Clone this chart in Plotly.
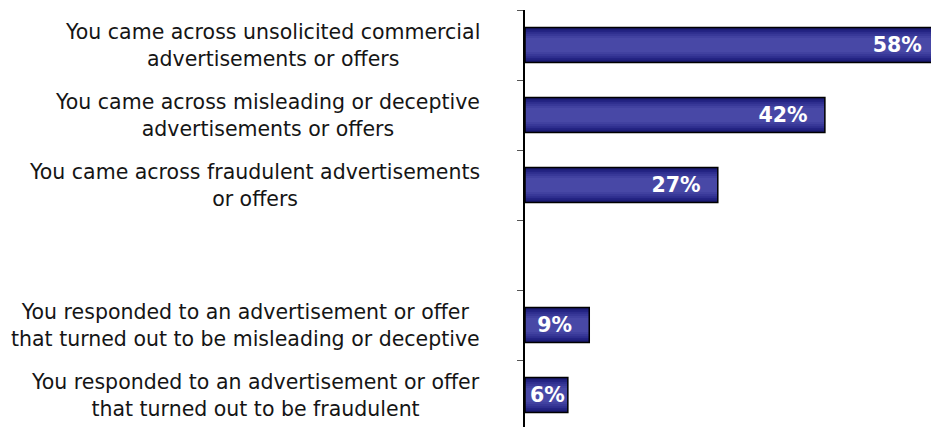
import plotly.graph_objects as go

# Survey items (top to bottom); the blank entry leaves a gap between the two groups
categories = [
    "You came across unsolicited commercial<br>advertisements or offers",
    "You came across misleading or deceptive<br>advertisements or offers",
    "You came across fraudulent advertisements<br>or offers",
    " ",
    "You responded to an advertisement or offer<br>that turned out to be misleading or deceptive",
    "You responded to an advertisement or offer<br>that turned out to be fraudulent",
]
values = [58, 42, 27, None, 9, 6]

# Layered fills give the bars a shaded, rounded look (dark edges, lighter middle)
shade_widths = [0.5, 0.44, 0.38, 0.32, 0.26, 0.2]
shade_colors = ["#18186c", "#222280", "#2e2e8e", "#383898", "#4141a0", "#4848a6"]

fig = go.Figure()
for w, c in zip(shade_widths, shade_colors):
    fig.add_trace(go.Bar(
        y=categories, x=values, orientation="h", width=w,
        marker=dict(color=c, line=dict(width=0)),
        hoverinfo="skip", showlegend=False,
    ))

# Value labels: short bars get no trailing padding so the text stays off the axis
labels = [
    "" if v is None else (f"{v}%\u00a0\u00a0" if v >= 9 else f"{v}%")
    for v in values
]

# Outline + value labels on top
fig.add_trace(go.Bar(
    y=categories, x=values, orientation="h", width=0.5,
    marker=dict(color="rgba(0,0,0,0)", line=dict(color="#000000", width=1.5)),
    text=labels,
    texttemplate="%{text}",
    textposition="inside",
    insidetextanchor="end",
    constraintext="none",
    textfont=dict(family="DejaVu Sans", size=20.5, color="white", weight="bold"),
    showlegend=False,
))

# Category labels: centred lines, block right-aligned left of the axis
for cat in categories:
    if not cat.strip():
        continue
    fig.add_annotation(
        x=0, xref="paper", xanchor="right", xshift=-43,
        y=cat, yref="y", yanchor="middle",
        text=cat, align="center", showarrow=False,
        font=dict(family="DejaVu Sans", size=20.5, color="#151515"),
    )

fig.update_layout(
    width=931, height=427,
    margin=dict(l=525, r=0, t=10, b=0),
    barmode="overlay",
    plot_bgcolor="white", paper_bgcolor="white",
    font=dict(family="DejaVu Sans", size=20.5, color="#151515"),
)
fig.update_xaxes(
    range=[0, 56.86], visible=False, showgrid=False, zeroline=False,
)
fig.update_yaxes(
    type="category",
    categoryorder="array", categoryarray=categories,
    range=[5.457, -0.5],
    tickson="boundaries",
    ticks="outside", ticklen=6, tickcolor="#555555", tickwidth=1,
    showline=True, linecolor="#000000", linewidth=1.5,
    showgrid=False, zeroline=False,
    showticklabels=False,
)

fig.write_html("out.html")
